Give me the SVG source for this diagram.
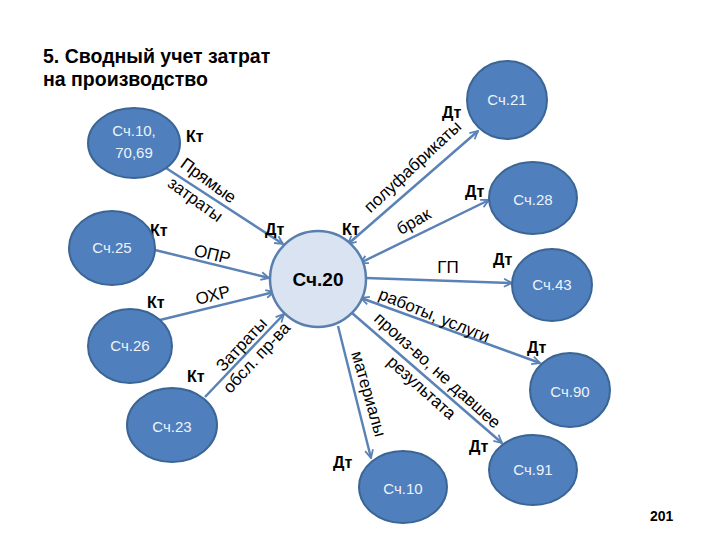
<svg xmlns="http://www.w3.org/2000/svg" width="720" height="540" viewBox="0 0 720 540">
<defs>
<marker id="arr" viewBox="0 0 10 10" refX="9" refY="5" markerWidth="10" markerHeight="10" markerUnits="userSpaceOnUse" orient="auto-start-reverse">
<path d="M1,1 L9,5 L1,9" fill="none" stroke="#5b82b6" stroke-width="1.8"/>
</marker>
</defs>
<style>
.node{fill:#4f7fbd;stroke:#3b6594;stroke-width:2}
.center{fill:#d9e3f2;stroke:#5a7fae;stroke-width:2.5}
.nt{font-family:"Liberation Sans",Arial,sans-serif;font-size:15px;fill:#eef3fa;text-anchor:middle}
.ct{font-family:"Liberation Sans",Arial,sans-serif;font-size:19px;font-weight:bold;fill:#000;text-anchor:middle}
.kd{font-family:"Liberation Sans",Arial,sans-serif;font-size:16px;font-weight:bold;fill:#000}
.lb{font-family:"Liberation Sans",Arial,sans-serif;font-size:17px;fill:#000;text-anchor:middle}
.title{font-family:"Liberation Sans",Arial,sans-serif;font-size:19.5px;font-weight:bold;fill:#000}
.ln{stroke:#5b82b6;stroke-width:2.5;fill:none}
</style>
<rect width="720" height="540" fill="#ffffff"/>
<text class="title" x="43" y="63">5. Сводный учет затрат</text>
<text class="title" x="43" y="86">на производство</text>
<text x="650" y="521" style="font-family:'Liberation Sans',Arial,sans-serif;font-size:14px;font-weight:bold">201</text>

<g id="connectors">
<line class="ln" x1="166" y1="168" x2="283" y2="244" marker-end="url(#arr)"/>
<line class="ln" x1="155" y1="250" x2="269" y2="278" marker-end="url(#arr)"/>
<line class="ln" x1="160" y1="320" x2="274" y2="292" marker-end="url(#arr)"/>
<line class="ln" x1="205" y1="397" x2="284" y2="314" marker-end="url(#arr)"/>
<line class="ln" x1="348" y1="244" x2="478" y2="131" marker-start="url(#arr)" marker-end="url(#arr)"/>
<line class="ln" x1="360" y1="263" x2="489" y2="200" marker-start="url(#arr)" marker-end="url(#arr)"/>
<line class="ln" x1="366" y1="278" x2="512" y2="283" marker-end="url(#arr)"/>
<line class="ln" x1="361" y1="298" x2="540" y2="363" marker-start="url(#arr)" marker-end="url(#arr)"/>
<line class="ln" x1="352" y1="313" x2="502" y2="443" marker-end="url(#arr)"/>
<line class="ln" x1="338" y1="326" x2="371" y2="458" marker-end="url(#arr)"/>
</g>

<g id="edge-labels">
<text class="lb" transform="translate(208,181) rotate(36)" x="0" y="5">Прямые</text>
<text class="lb" transform="translate(195,200) rotate(36)" x="0" y="5">затраты</text>
<text class="lb" transform="translate(212,255) rotate(14)" x="0" y="5">ОПР</text>
<text class="lb" transform="translate(213,296) rotate(-14)" x="0" y="5">ОХР</text>
<text class="lb" transform="translate(242,345) rotate(-47)" x="0" y="5">Затраты</text>
<text class="lb" transform="translate(257,358) rotate(-47)" x="0" y="5">обсл. пр-ва</text>
<text class="lb" transform="translate(413,167) rotate(-43)" x="0" y="5">полуфабрикаты</text>
<text class="lb" transform="translate(414,222) rotate(-30)" x="0" y="5">брак</text>
<text class="lb" x="448" y="273">ГП</text>
<text class="lb" transform="translate(434,316) rotate(22)" x="0" y="5">работы, услуги</text>
<text class="lb" transform="translate(437,371) rotate(42)" x="0" y="5">произ-во, не давшее</text>
<text class="lb" transform="translate(421,388) rotate(42)" x="0" y="5">результата</text>
<text class="lb" transform="translate(368,394) rotate(74)" x="0" y="5">материалы</text>
</g>

<g id="kt-dt">
<text class="kd" x="186" y="142">Кт</text>
<text class="kd" x="265" y="235">Дт</text>
<text class="kd" x="342" y="235">Кт</text>
<text class="kd" x="150" y="236">Кт</text>
<text class="kd" x="147" y="308">Кт</text>
<text class="kd" x="187" y="382">Кт</text>
<text class="kd" x="442" y="118">Дт</text>
<text class="kd" x="465" y="197">Дт</text>
<text class="kd" x="493" y="265">Дт</text>
<text class="kd" x="527" y="353">Дт</text>
<text class="kd" x="469" y="452">Дт</text>
<text class="kd" x="333" y="468">Дт</text>
</g>

<g id="n20"><circle class="center" cx="318" cy="279" r="48"/><text class="ct" x="318" y="286">Сч.20</text></g>
<g id="n10_70_69"><ellipse class="node" cx="134" cy="143" rx="46" ry="35"/><text class="nt" x="134" y="136">Сч.10,</text><text class="nt" x="134" y="158">70,69</text></g>
<g id="n25"><ellipse class="node" cx="112" cy="248" rx="43" ry="37"/><text class="nt" x="112" y="253">Сч.25</text></g>
<g id="n26"><ellipse class="node" cx="130" cy="346" rx="42" ry="37"/><text class="nt" x="130" y="351">Сч.26</text></g>
<g id="n23"><ellipse class="node" cx="172" cy="425" rx="45" ry="37"/><text class="nt" x="172" y="432">Сч.23</text></g>
<g id="n21"><ellipse class="node" cx="507" cy="100" rx="40" ry="39"/><text class="nt" x="507" y="105">Сч.21</text></g>
<g id="n28"><ellipse class="node" cx="533" cy="198" rx="44" ry="36"/><text class="nt" x="533" y="205">Сч.28</text></g>
<g id="n43"><ellipse class="node" cx="552" cy="285" rx="40" ry="36"/><text class="nt" x="552" y="290">Сч.43</text></g>
<g id="n90"><ellipse class="node" cx="570" cy="390" rx="40" ry="37"/><text class="nt" x="570" y="397">Сч.90</text></g>
<g id="n91"><ellipse class="node" cx="533" cy="470" rx="44" ry="35"/><text class="nt" x="533" y="475">Сч.91</text></g>
<g id="n10"><ellipse class="node" cx="403" cy="487" rx="44" ry="36"/><text class="nt" x="403" y="494">Сч.10</text></g>
</svg>
